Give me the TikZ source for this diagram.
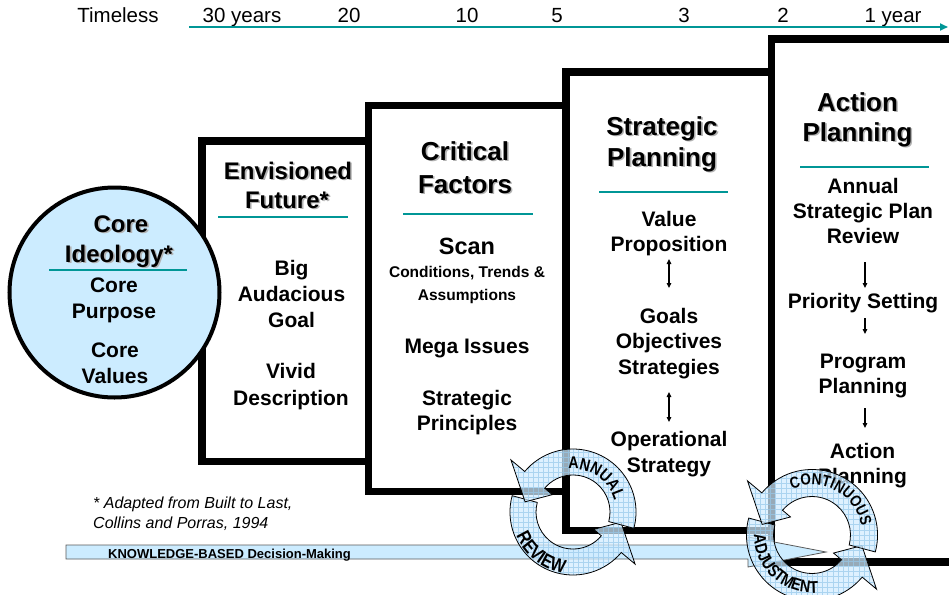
\documentclass[tikz,border=0pt]{standalone}
\usepackage{fontspec}
\setmainfont{Liberation Sans}
\newfontfamily\narrowb[FakeStretch=0.84]{Liberation Sans}
\usetikzlibrary{arrows.meta,decorations.text}
\definecolor{teal1}{RGB}{0,150,150}
\definecolor{lblue}{RGB}{204,236,255}
\definecolor{cycblue}{RGB}{210,236,255}
\definecolor{cycgrid}{RGB}{150,200,235}
\tikzset{
  box/.style={draw=black, fill=white, line width=7.5pt},
  sep/.style={draw=teal1, line width=1.3pt},
  hd/.style={font=\bfseries\fontsize{26}{30}\selectfont, inner sep=0pt, anchor=base},
  hdsm/.style={font=\bfseries\fontsize{24}{28}\selectfont, inner sep=0pt, anchor=base},
  bd/.style={font=\bfseries\fontsize{21}{25}\selectfont, inner sep=0pt, anchor=base},
  scanf/.style={font=\bfseries\fontsize{23.5}{27}\selectfont, inner sep=0pt, anchor=base},
  smf/.style={font=\bfseries\fontsize{15.5}{18}\selectfont, inner sep=0pt, anchor=base},
  tml/.style={font=\fontsize{20.5}{23}\selectfont, inner sep=0pt, anchor=base},
  foot/.style={font=\itshape\fontsize{16}{19}\selectfont, inner sep=0pt, anchor=base west},
  thinarr/.style={line width=1.2pt, -{Triangle[length=5pt,width=4.5pt]}},
  dblarr/.style={line width=1.2pt, {Triangle[length=5pt,width=4.5pt]}-{Triangle[length=5pt,width=4.5pt]}},
  cycfill/.style={fill=cycblue, fill opacity=0.72},
  cycline/.style={draw=black, line width=0.8pt},
  cycgridl/.style={draw=cycgrid, line width=0.4pt, opacity=0.7},
  arctext/.style={decorate, decoration={text along path, text align=center, text={|\narrowb\bfseries\fontsize{#1}{#1}\selectfont|\arctxt}}},
}
\newcommand\shadowhd[5]{%
  \node[#1, text=black!30] (#2s) at (#3+1.6,#4+1.6) {#5};
  \node[#1] (#2) at (#3,#4) {#5};}
% two circular arrows: #1 cx, #2 cy, #3 scale
\newcommand\cycleshapes[3]{%
\begin{scope}[shift={(#1,#2)}, yscale=-1, scale=#3]
  \def\shapeA{(-15:37) -- (-15:63) arc[start angle=-15,end angle=140,radius=63] -- (140:81) -- (168:49) -- (140:27) -- (140:37) arc[start angle=140,end angle=-15,radius=37] -- cycle}
  \def\shapeB{(165:37) -- (165:63) arc[start angle=165,end angle=320,radius=63] -- (320:81) -- (348:49) -- (320:27) -- (320:37) arc[start angle=320,end angle=165,radius=37] -- cycle}
  \path[cycfill] \shapeB;
  \begin{scope}\clip \shapeB; \draw[cycgridl] (-90,-90) grid[step=5pt] (90,90);\end{scope}
  \draw[cycline] \shapeB;
  \path[cycfill] \shapeA;
  \begin{scope}\clip \shapeA; \draw[cycgridl] (-90,-90) grid[step=5pt] (90,90);\end{scope}
  \draw[cycline] \shapeA;
\end{scope}}
\begin{document}
\begin{tikzpicture}[x=1pt,y=-1pt]
\useasboundingbox (0,0) rectangle (949,594);
\clip (0,0) rectangle (949,594);
\fill[white] (0,0) rectangle (949,594);

% timeline
\node[tml] (t0) at (118,23) {Timeless};
\node[tml] (t1) at (242,23) {30 years};
\node[tml] (t2) at (349,23) {20};
\node[tml] (t3) at (467,23) {10};
\node[tml] (t4) at (557,23) {5};
\node[tml] (t5) at (684,23) {3};
\node[tml] (t6) at (783,23) {2};
\node[tml] (t7) at (893,23) {1 year};
\coordinate (tla) at (189,27);
\coordinate (tlb) at (948,27);
\draw[teal1, line width=2.5pt, -{Triangle[length=8pt,width=7pt]}] (tla) -- (tlb);

% boxes
\draw[box] (202,141) rectangle (420,461.5);
\draw[box] (368.5,105.5) rectangle (600,491.5);
\draw[box] (566,72) rectangle (800,530.5);
\draw[box] (771.5,39) rectangle (970,562);

% circle
\node[circle, draw=black, line width=4pt, fill=lblue, minimum size=210pt, inner sep=0pt] (circ) at (114.5,292.5) {};
\shadowhd{hdsm}{ci1}{121}{232}{Core}
\shadowhd{hdsm}{ci2}{119}{262}{Ideology*}
\coordinate (cl1) at (49,270); \coordinate (cl2) at (187,270);
\draw[sep] (cl1) -- (cl2);
\node[bd] (cp1) at (114,292) {Core};
\node[bd] (cp2) at (114,318) {Purpose};
\node[bd] (cv1) at (115,357) {Core};
\node[bd] (cv2) at (115,383) {Values};

% box 1
\shadowhd{hdsm}{ef1}{288}{179}{Envisioned}
\shadowhd{hdsm}{ef2}{287}{208}{Future*}
\coordinate (el1) at (218,217); \coordinate (el2) at (348,217);
\draw[sep] (el1) -- (el2);
\node[bd] (b11) at (291.5,275) {Big};
\node[bd] (b12) at (291.5,301) {Audacious};
\node[bd] (b13) at (291.5,327) {Goal};
\node[bd] (b14) at (291,378) {Vivid};
\node[bd] (b15) at (291,405) {Description};

% box 2
\shadowhd{hd}{cf1}{465}{160}{Critical}
\shadowhd{hd}{cf2}{465}{193}{Factors}
\coordinate (fl1) at (403,214); \coordinate (fl2) at (533,214);
\draw[sep] (fl1) -- (fl2);
\node[scanf] (b21) at (467,254) {Scan};
\node[smf] (b22) at (467,277) {Conditions, Trends \&};
\node[smf] (b23) at (467,300) {Assumptions};
\node[bd] (b24) at (467,353) {Mega Issues};
\node[bd] (b25) at (467,405) {Strategic};
\node[bd] (b26) at (467,430) {Principles};

% box 3
\shadowhd{hd}{sp1}{662}{135}{Strategic}
\shadowhd{hd}{sp2}{662}{166}{Planning}
\coordinate (sl1) at (599,192); \coordinate (sl2) at (728,192);
\draw[sep] (sl1) -- (sl2);
\node[bd] (b31) at (669,226) {Value};
\node[bd] (b32) at (669,251) {Proposition};
\coordinate (a1s) at (669,259); \coordinate (a1e) at (669,288);
\draw[dblarr] (a1s) -- (a1e);
\node[bd] (b33) at (669,323) {Goals};
\node[bd] (b34) at (669,348) {Objectives};
\node[bd] (b35) at (669,374) {Strategies};
\coordinate (a2s) at (669,392); \coordinate (a2e) at (669,422);
\draw[dblarr] (a2s) -- (a2e);
\node[bd] (b36) at (669,446) {Operational};
\node[bd] (b37) at (669,472) {Strategy};

% box 4
\shadowhd{hd}{ap1}{857.5}{111}{Action}
\shadowhd{hd}{ap2}{857.5}{141}{Planning}
\coordinate (al1) at (800,167); \coordinate (al2) at (929,167);
\draw[sep] (al1) -- (al2);
\node[bd] (b41) at (863,193) {Annual};
\node[bd] (b42) at (863,218) {Strategic Plan};
\node[bd] (b43) at (863,243) {Review};
\coordinate (a3s) at (865,262); \coordinate (a3e) at (865,288);
\draw[thinarr] (a3s) -- (a3e);
\node[bd] (b44) at (863,308) {Priority Setting};
\coordinate (a4s) at (865,318); \coordinate (a4e) at (865,334);
\draw[thinarr] (a4s) -- (a4e);
\node[bd] (b45) at (863,368) {Program};
\node[bd] (b46) at (863,393) {Planning};
\coordinate (a5s) at (865,408); \coordinate (a5e) at (865,428);
\draw[thinarr] (a5s) -- (a5e);
\node[bd] (b47) at (862.5,458) {Action};
\node[bd] (b48) at (862.5,483) {Planning};

% footnote
\node[foot] (fn1) at (93,508) {* Adapted from Built to Last,};
\node[foot] (fn2) at (93,528) {Collins and Porras, 1994};

% knowledge bar
\draw[fill=lblue, draw=black!65, line width=0.8pt] (66,545) -- (748,545) -- (748,537) -- (826,552) -- (748,567) -- (748,559) -- (66,559) -- cycle;
\node[font=\bfseries\fontsize{13}{15}\selectfont, inner sep=0pt, anchor=base west] (kb) at (108,558) {KNOWLEDGE-BASED Decision-Making};

% cycle 1 : annual review
\cycleshapes{573}{512}{1}
\begin{scope}[shift={(573,512)}, yscale=-1]
  \def\arctxt{ANNUAL}
  \path[arctext=17] (111:43) arc[start angle=111,end angle=1,radius=43];
  \def\arctxt{REVIEW}
  \path[arctext=19] (177:61.5) arc[start angle=177,end angle=287,radius=61.5];
\end{scope}

% cycle 2 : continuous adjustment
\cycleshapes{812}{535}{1.04}
\begin{scope}[shift={(812,535)}, yscale=-1]
  \def\arctxt{CONTINUOUS}
  \path[arctext=16] (122:50) arc[start angle=122,end angle=2,radius=50];
  \def\arctxt{ADJUSTMENT}
  \path[arctext=17] (173:58) arc[start angle=173,end angle=283,radius=58];
\end{scope}
\end{tikzpicture}
\end{document}
